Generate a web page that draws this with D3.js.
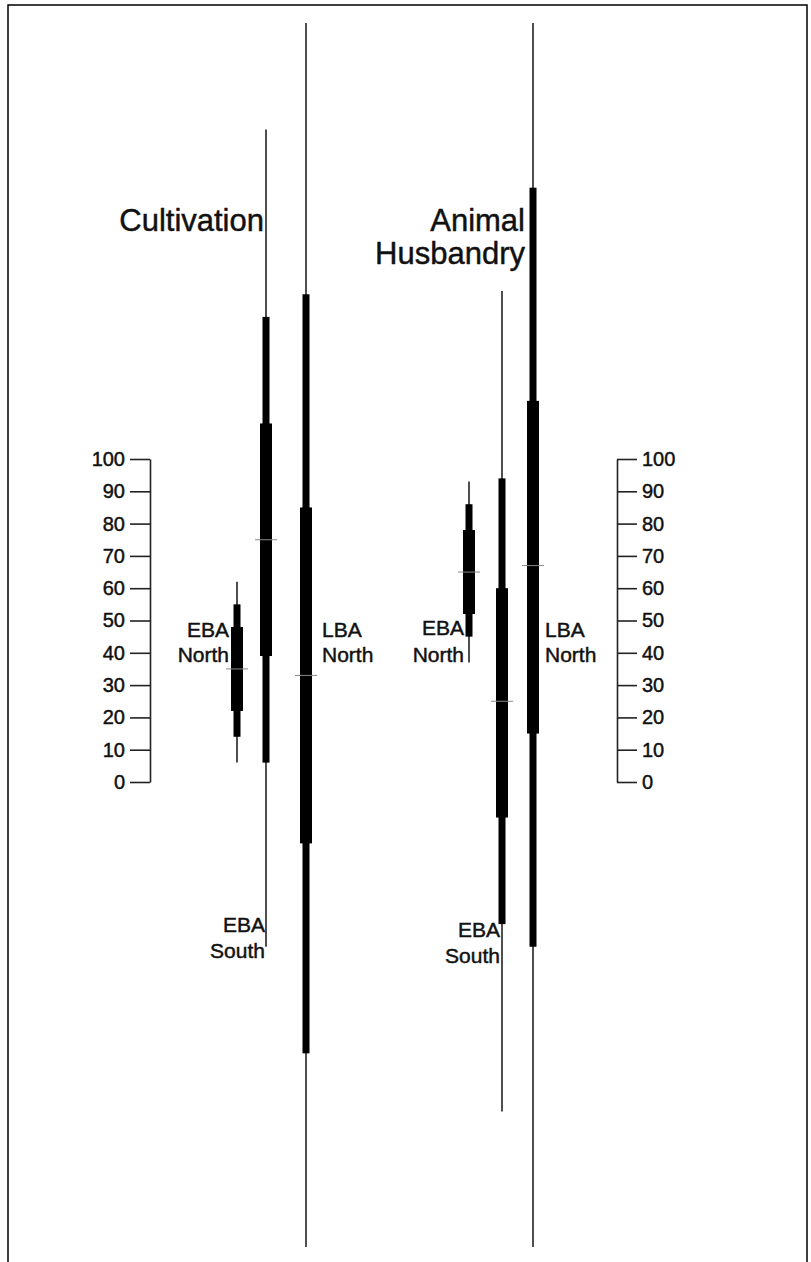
<!DOCTYPE html>
<html>
<head>
<meta charset="utf-8">
<script src="https://cdn.jsdelivr.net/npm/d3@7"></script>
<style>
  body { margin: 0; background: #fff; }
  text { font-family: "Liberation Sans", Arial, sans-serif; fill: #111; stroke: #111; stroke-width: 0.45px; }
</style>
</head>
<body>
<script>
// 1. DATA ---------------------------------------------------------------

const series = ["EBA North", "EBA South", "LBA North"];
const tickValues = [0, 10, 20, 30, 40, 50, 60, 70, 80, 90, 100];

// cultivation: whisker ends, outer bar, inner bar, median
const cultMin       = [6, -51, -144];
const cultLowOuter  = [14, 6, -84];
const cultLowInner  = [22, 39, -19];
const cultMedian    = [35, 75, 33];
const cultHighInner = [48, 111, 85];
const cultHighOuter = [55, 144, 151];
const cultMax       = [62, 202, 235];

// animal husbandry
const ahMin       = [37, -102, -144];
const ahLowOuter  = [45, -44, -51];
const ahLowInner  = [52, -11, 15];
const ahMedian    = [65, 25, 67];
const ahHighInner = [78, 60, 118];
const ahHighOuter = [86, 94, 184];
const ahMax       = [93, 152, 235];

// 2. SETUP ----------------------------------------------------------------

const width = 811,
      height = 1262,
      thinW = 1.6,
      midW = 7,
      thickW = 12,
      medianW = 22;

const svg = d3.select("body").append("svg")
  .attr("width", width)
  .attr("height", height);

// frame (bottom edge is cut off in the original)
svg.append("path")
  .attr("d", `M8,${height + 5} V5 H807 V${height + 5}`)
  .attr("fill", "none")
  .attr("stroke", "#000")
  .attr("stroke-width", 1.5);

const y = d3.scaleLinear().domain([0, 100]).range([782, 459]);

const panels = [
  {
    title: ["Cultivation"], titleX: 264, titleY: 231,
    axisX: 150, axis: d3.axisLeft,
    x: d3.scaleOrdinal().domain(series).range([237, 266, 306]),
    min: cultMin, lo: cultLowOuter, li: cultLowInner, med: cultMedian,
    hi: cultHighInner, ho: cultHighOuter, max: cultMax,
    labels: [
      { anchor: "end", dx: -8, lines: [637, 662] },
      { anchor: "end", dx: -1, lines: [932, 958] },
      { anchor: "start", dx: 16, lines: [637, 662] }
    ]
  },
  {
    title: ["Animal", "Husbandry"], titleX: 525, titleY: 231,
    axisX: 617, axis: d3.axisRight,
    x: d3.scaleOrdinal().domain(series).range([469, 502, 533]),
    min: ahMin, lo: ahLowOuter, li: ahLowInner, med: ahMedian,
    hi: ahHighInner, ho: ahHighOuter, max: ahMax,
    labels: [
      { anchor: "end", dx: -5, lines: [635, 662] },
      { anchor: "end", dx: -2, lines: [937, 963] },
      { anchor: "start", dx: 12, lines: [637, 662] }
    ]
  }
];

// 3. DRAW ----------------------------------------------------------------

panels.forEach(p => {
  const g = svg.append("g");

  // axis
  const ax = g.append("g")
    .attr("transform", `translate(${p.axisX},0)`)
    .call(p.axis(y).tickValues(tickValues).tickSize(20).tickSizeOuter(0).tickPadding(5));
  ax.selectAll("path, line").attr("stroke", "#222").attr("stroke-width", 1.6);
  ax.selectAll("text")
    .style("font-family", "'Liberation Sans', Arial, sans-serif")
    .attr("font-size", 20)
    .attr("fill", "#111");

  // title
  g.append("text")
    .attr("text-anchor", "end")
    .attr("font-size", 31)
    .selectAll("tspan")
    .data(p.title)
    .enter()
    .append("tspan")
    .attr("x", p.titleX)
    .attr("y", (d, i) => p.titleY + i * 33)
    .text(d => d);

  const rows = series.map((s, i) => ({
    name: s, i: i,
    min: p.min[i], lo: p.lo[i], li: p.li[i], med: p.med[i],
    hi: p.hi[i], ho: p.ho[i], max: p.max[i]
  }));

  const item = g.selectAll(".item")
    .data(rows)
    .enter()
    .append("g")
    .attr("class", "item");

  // whisker
  item.append("line")
    .attr("x1", d => p.x(d.name)).attr("x2", d => p.x(d.name))
    .attr("y1", d => y(d.max)).attr("y2", d => y(d.min))
    .attr("stroke", "#222")
    .attr("stroke-width", thinW);

  // outer range
  item.append("rect")
    .attr("x", d => p.x(d.name) - midW / 2)
    .attr("width", midW)
    .attr("y", d => y(d.ho))
    .attr("height", d => y(d.lo) - y(d.ho))
    .attr("fill", "#000");

  // inner range
  item.append("rect")
    .attr("x", d => p.x(d.name) - thickW / 2)
    .attr("width", thickW)
    .attr("y", d => y(d.hi))
    .attr("height", d => y(d.li) - y(d.hi))
    .attr("fill", "#000");

  // median tick
  item.append("line")
    .attr("x1", d => p.x(d.name) - medianW / 2)
    .attr("x2", d => p.x(d.name) + medianW / 2)
    .attr("y1", d => y(d.med)).attr("y2", d => y(d.med))
    .attr("stroke", "#888")
    .attr("stroke-width", 1);

  // labels
  item.append("text")
    .attr("font-size", 21)
    .attr("text-anchor", d => p.labels[d.i].anchor)
    .selectAll("tspan")
    .data(d => d.name.split(" ").map((w, k) => ({ w: w, d: d, k: k })))
    .enter()
    .append("tspan")
    .attr("x", t => p.x(t.d.name) + p.labels[t.d.i].dx)
    .attr("y", t => p.labels[t.d.i].lines[t.k])
    .text(t => t.w);
});
</script>
</body>
</html>
